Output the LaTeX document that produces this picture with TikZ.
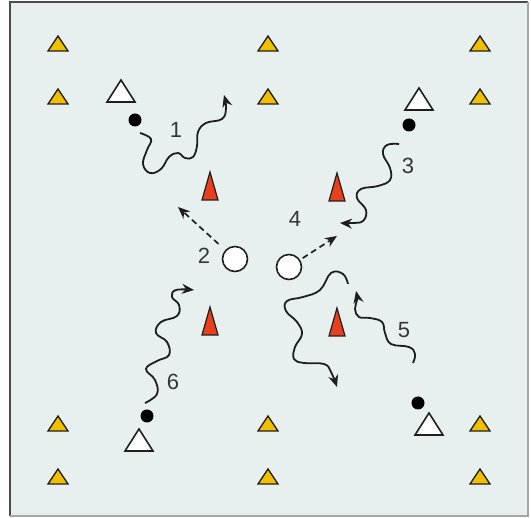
\documentclass[tikz,border=0pt]{standalone}
\usepackage{fontspec}
\setmainfont{Liberation Sans}
\usetikzlibrary{arrows.meta}
\definecolor{fieldbg}{HTML}{E8F0EF}
\definecolor{ycone}{HTML}{F0C000}
\definecolor{rcone}{HTML}{E8401C}
\definecolor{ink}{HTML}{1E1E1E}
\tikzset{
  ytri/.style={fill=ycone,draw=ink,line width=1.3pt,line join=miter},
  rtri/.style={fill=rcone,draw=ink,line width=1.2pt,line join=miter},
  wtri/.style={fill=white,draw=ink,line width=1.6pt,line join=miter},
  player/.style={circle,fill=black,inner sep=0pt,minimum size=13pt},
  ball/.style={circle,fill=white,draw=ink,line width=1.6pt,inner sep=0pt,minimum size=25pt},
  wavy/.style={draw=ink,line width=1.8pt,-{Stealth[length=12pt,width=10pt]}},
  pass/.style={draw=ink,line width=1.7pt,dash pattern=on 6pt off 4pt,-{Stealth[length=12pt,width=10pt]}},
  lbl/.style={font=\fontsize{22}{22}\selectfont,text=ink!90,inner sep=0pt}
}
\newcommand{\ycone}[2]{\draw[ytri,shift={(#1,#2)}] (-10,7)--(10,7)--(0,-8)--cycle;}
\newcommand{\rcone}[2]{\draw[rtri,shift={(#1,#2)}] (-8,14)--(8,14)--(0,-14)--cycle;}
\newcommand{\wcone}[2]{\draw[wtri,shift={(#1,#2)}] (-14,11)--(14,11)--(0,-11)--cycle;}
\begin{document}
\begin{tikzpicture}[x=1pt,y=-1pt]
\useasboundingbox (0,0) rectangle (531,518);
\fill[fieldbg] (10,2) rectangle (528,516);
\draw[draw=ink!80,line width=1.5pt] (10,516) -- (10,2) -- (528,2);
\draw[draw=gray!70,line width=1.5pt] (528,2) -- (528,516) -- (10,516);
% yellow cones
\foreach \x in {58,268,480}{
  \foreach \y in {44,97,424,477}{ \ycone{\x}{\y} }
}
% red cones
\rcone{210}{186}
\rcone{337}{187}
\rcone{210}{321}
\rcone{337}{322}
% white cones
\wcone{121}{91}
\wcone{419}{99}
\wcone{139}{440}
\wcone{429}{424}
% players
\node[player] (p1) at (135,120) {};
\node[player] (p3) at (409,125) {};
\node[player] (p6) at (147,416) {};
\node[player] (p5) at (418,403) {};
% balls
\node[ball] (b1) at (235,259) {};
\node[ball] (b2) at (289,267) {};
% passes
\coordinate (t2) at (178,207);
\coordinate (t4) at (337,236);
\draw[pass,shorten <=9pt] (b1) -- (t2);
\draw[pass,shorten <=3pt] (b2) -- (t4);
% dribbles
\draw[wavy] plot[smooth,tension=0.7] coordinates {(140,133) (151,139) (147,150) (143,164) (150,173) (161,169) (169,157) (178,153) (185,158) (193,157) (197,146) (198,132) (206,123) (222,119) (226,108) (224,95)};
\draw[wavy] plot[smooth,tension=0.7] coordinates {(399,144) (387,145) (383,154) (390,168) (390,180) (378,186) (361,189) (357,198) (366,210) (363,221) (352,223) (340,223)};
\draw[wavy] plot[smooth,tension=0.7] coordinates {(145,403) (157,394) (155,380) (146,369) (157,361) (169,355) (167,342) (156,333) (161,322) (177,316) (179,305) (172,297) (176,290) (194,290)};
\draw[wavy] plot[smooth,tension=0.7] coordinates {(348,284) (343,274) (331,273) (320,290) (303,297) (287,301) (286,311) (297,322) (302,334) (295,347) (294,359) (304,363) (324,364) (331,372) (337,387)};
\draw[wavy] plot[smooth,tension=0.7] coordinates {(413,363) (415,354) (409,347) (391,344) (385,333) (382,322) (370,318) (359,317) (355,309) (357,300) (356,291)};
% labels
\node[lbl] (l1) at (176,130) {1};
\node[lbl] (l2) at (204,256) {2};
\node[lbl] (l3) at (408,166) {3};
\node[lbl] (l4) at (295,219) {4};
\node[lbl] (l5) at (404,330) {5};
\node[lbl] (l6) at (173,382) {6};
\end{tikzpicture}
\end{document}
